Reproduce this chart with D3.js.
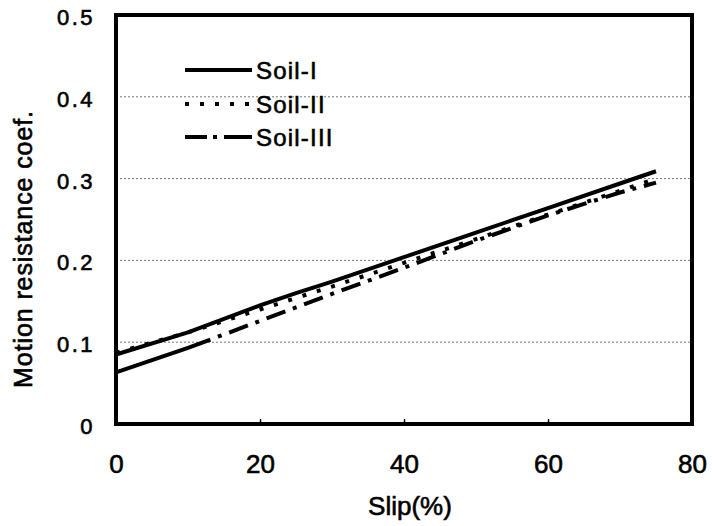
<!DOCTYPE html>
<html>
<head>
<meta charset="utf-8">
<script src="https://cdn.jsdelivr.net/npm/d3@7"></script>
<style>
  body { margin: 0; background: #fff; }
  svg { display: block; font-family: "Liberation Sans", Arial, sans-serif; }
  .lbl { stroke: #000; stroke-width: 0.6px; fill: #000; }
</style>
</head>
<body>
<svg id="chart" width="712" height="526"></svg>
<script>
// slip (%) and motion resistance coefficient
const slipSoil1 = [0, 10, 20, 25, 30, 40, 50, 60, 70, 75];
const coefSoil1 = [0.085, 0.112, 0.145, 0.160, 0.174, 0.204, 0.234, 0.264, 0.294, 0.309];

const slipSoil2 = [0, 10, 20, 30, 40, 50, 60, 70, 74];
const coefSoil2 = [0.087, 0.112, 0.140, 0.168, 0.197, 0.226, 0.256, 0.285, 0.297];

const slipSoil3 = [0, 10, 20, 30, 40, 50, 60, 70, 75];
const coefSoil3 = [0.063, 0.093, 0.126, 0.159, 0.191, 0.224, 0.255, 0.283, 0.295];

const seriesNames = ['Soil-I', 'Soil-II', 'Soil-III'];
const xTicks = [0, 20, 40, 60, 80];
const yTicks = [0, 0.1, 0.2, 0.3, 0.4, 0.5];
const yTickLabels = ['0', '0.1', '0.2', '0.3', '0.4', '0.5'];

const svg = d3.select('#chart');
const plotLeft = 116, plotRight = 692, plotTop = 15, plotBottom = 424;

const x = d3.scaleLinear().domain([0, 80]).range([plotLeft, plotRight]);
const y = d3.scaleLinear().domain([0, 0.5]).range([plotBottom, plotTop]);

// dotted grid lines
svg.append('g')
    .selectAll('line')
    .data(yTicks.filter(d => d > 0 && d < 0.5))
    .enter()
    .append('line')
    .attr('x1', plotLeft)
    .attr('x2', plotRight)
    .attr('y1', d => y(d))
    .attr('y2', d => y(d))
    .attr('stroke', '#777')
    .attr('stroke-width', 1)
    .attr('stroke-dasharray', '2,2');

// dash-dot pattern; the first stretch of Soil-III reads as one long dash
const dashDot = [100, 8, 4, 8];
for (let i = 0; i < 30; i++) dashDot.push(20, 8, 4, 8);

const series = [
    { name: seriesNames[0], xs: slipSoil1, ys: coefSoil1, dash: null },
    { name: seriesNames[1], xs: slipSoil2, ys: coefSoil2, dash: '4,11' },
    { name: seriesNames[2], xs: slipSoil3, ys: coefSoil3, dash: dashDot.join(',') }
];

const line = d3.line()
    .x(d => x(d[0]))
    .y(d => y(d[1]));

svg.append('g')
    .selectAll('path')
    .data(series)
    .enter()
    .append('path')
    .attr('d', s => line(s.xs.map((v, i) => [v, s.ys[i]])))
    .attr('fill', 'none')
    .attr('stroke', '#000')
    .attr('stroke-width', 4)
    .attr('stroke-dasharray', s => s.dash);

// frame
svg.append('rect')
    .attr('x', plotLeft)
    .attr('y', plotTop)
    .attr('width', plotRight - plotLeft)
    .attr('height', plotBottom - plotTop)
    .attr('fill', 'none')
    .attr('stroke', '#000')
    .attr('stroke-width', 4);

// x axis
const xAxis = svg.append('g')
    .attr('transform', `translate(0,${plotBottom})`)
    .call(d3.axisBottom(x).tickValues(xTicks).tickSize(-5).tickPadding(31).tickFormat(d3.format('d')));
xAxis.select('.domain').remove();
xAxis.selectAll('.tick line').attr('stroke', '#000').attr('stroke-width', 1.5)
    .filter(d => d === 0 || d === 80).remove();
xAxis.selectAll('text')
    .attr('class', 'lbl')
    .attr('font-size', 26);

// y axis
const yAxis = svg.append('g')
    .attr('transform', `translate(${plotLeft},0)`)
    .call(d3.axisLeft(y).tickValues(yTicks).tickSize(0).tickPadding(21)
        .tickFormat((d, i) => yTickLabels[i]));
yAxis.select('.domain').remove();
yAxis.selectAll('text')
    .attr('class', 'lbl')
    .attr('font-size', 22)
    .attr('letter-spacing', 2.5)
    .attr('dy', '0.43em');

// axis titles
svg.append('text')
    .attr('class', 'lbl')
    .attr('x', 410)
    .attr('y', 515)
    .attr('text-anchor', 'middle')
    .attr('font-size', 26)
    .text('Slip(%)');

svg.append('text')
    .attr('class', 'lbl')
    .attr('transform', 'translate(32,249) rotate(-90)')
    .attr('text-anchor', 'middle')
    .attr('font-size', 25)
    .attr('letter-spacing', 0.9)
    .text('Motion resistance coef.');

// legend
const legendRows = [70, 104, 137];
const legend = svg.append('g')
    .selectAll('g')
    .data(series)
    .enter()
    .append('g')
    .attr('transform', (s, i) => `translate(185,${legendRows[i]})`);

legend.append('line')
    .attr('x1', 0)
    .attr('x2', 67)
    .attr('stroke', '#000')
    .attr('stroke-width', 4)
    .attr('stroke-dasharray', (s, i) => i === 2 ? '22,6,4,7,28' : s.dash);

legend.append('text')
    .attr('class', 'lbl')
    .attr('x', 71)
    .attr('dy', '0.36em')
    .attr('font-size', 24)
    .attr('letter-spacing', 1.2)
    .text(s => s.name);
</script>
</body>
</html>
